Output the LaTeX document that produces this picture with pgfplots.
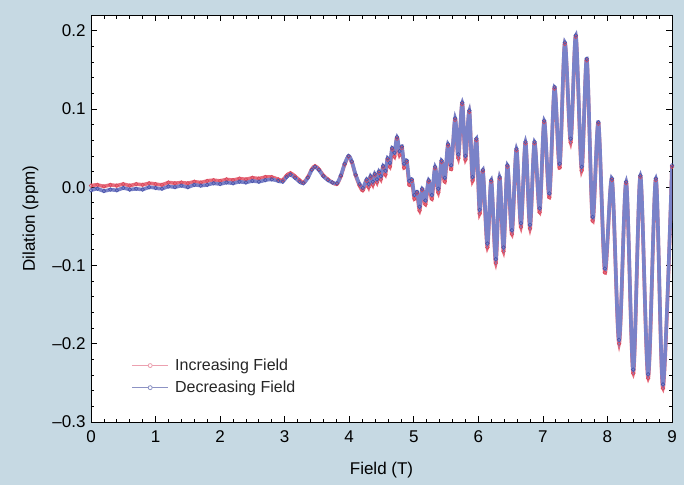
\documentclass[border=0pt]{standalone}
\usepackage{fontspec}
\setmainfont{Liberation Sans}
\usepackage{pgfplots}
\usepackage{pgfplotstable}
\pgfplotsset{compat=1.18}

\definecolor{bgblue}{RGB}{198,217,227}
\definecolor{incline}{RGB}{232,108,124}
\definecolor{incmark}{RGB}{215,70,90}
\definecolor{decline}{RGB}{122,130,200}
\definecolor{decmark}{RGB}{72,82,168}
\definecolor{legred}{RGB}{236,160,175}
\definecolor{legblue}{RGB}{140,146,196}

% increasing field (red)
\pgfplotstableread{
f v
0.0 0.002
0.1 0.003
0.2 0.001
0.3 0.003
0.4 0.002
0.5 0.004
0.6 0.002
0.7 0.004
0.8 0.003
0.9 0.005
1.0 0.004
1.1 0.003
1.2 0.006
1.3 0.005
1.4 0.006
1.5 0.005
1.6 0.007
1.7 0.006
1.8 0.008
1.9 0.009
2.0 0.008
2.1 0.010
2.2 0.009
2.3 0.011
2.4 0.010
2.5 0.012
2.6 0.011
2.7 0.013
2.8 0.013
2.90 0.010
2.97 0.009
3.03 0.015
3.09 0.018
3.16 0.014
3.23 0.009
3.29 0.006
3.36 0.013
3.42 0.023
3.47 0.027
3.53 0.023
3.60 0.015
3.67 0.010
3.74 0.006
3.81 0.004
3.87 0.014
3.93 0.029
3.99 0.039
4.04 0.032
4.10 0.015
4.16 0.002
4.21 -0.004
4.27 0.008
4.30 0.000
4.33 0.012
4.365 0.003
4.395 0.015
4.43 0.006
4.46 0.018
4.49 0.010
4.525 0.025
4.56 0.016
4.595 0.035
4.63 0.026
4.665 0.048
4.70 0.039
4.74 0.062
4.78 0.041
4.815 0.050
4.85 0.025
4.89 0.032
4.93 0.003
4.97 0.008
5.01 -0.015
5.05 -0.008
5.09 -0.030
5.13 -0.004
5.18 -0.022
5.23 0.007
5.28 -0.015
5.33 0.024
5.38 -0.007
5.43 0.032
5.48 0.007
5.53 0.053
5.58 0.023
5.64 0.086
5.69 0.037
5.75 0.106
5.80 0.035
5.86 0.096
5.91 0.008
5.97 0.060
6.02 -0.034
6.07 0.020
6.14 -0.077
6.20 0.007
6.27 -0.097
6.33 0.011
6.39 -0.082
6.45 0.026
6.52 -0.060
6.59 0.047
6.66 -0.051
6.73 0.056
6.80 -0.053
6.87 0.056
6.95 -0.032
7.02 0.083
7.10 -0.013
7.18 0.126
7.26 0.025
7.34 0.183
7.43 0.057
7.51 0.192
7.60 0.021
7.68 0.162
7.77 -0.043
7.86 0.081
7.96 -0.109
8.07 0.009
8.18 -0.200
8.29 0.005
8.40 -0.238
8.51 0.013
8.63 -0.244
8.75 0.009
8.86 -0.257
9.00 0.026
}\incfield

% decreasing field (blue)
\pgfplotstableread{
f v
0.0 -0.004
0.1 -0.002
0.2 -0.005
0.3 -0.003
0.4 -0.004
0.5 -0.001
0.6 -0.003
0.7 -0.002
0.8 -0.003
0.9 0.000
1.0 -0.001
1.1 -0.002
1.2 0.001
1.3 0.000
1.4 0.002
1.5 0.000
1.6 0.003
1.7 0.002
1.8 0.003
1.9 0.005
2.0 0.004
2.1 0.006
2.2 0.005
2.3 0.007
2.4 0.006
2.5 0.008
2.6 0.007
2.7 0.009
2.8 0.010
2.90 0.008
2.97 0.007
3.03 0.013
3.09 0.016
3.16 0.012
3.23 0.007
3.29 0.005
3.36 0.012
3.42 0.022
3.47 0.026
3.53 0.022
3.60 0.014
3.67 0.009
3.74 0.006
3.81 0.005
3.87 0.015
3.93 0.030
3.99 0.040
4.04 0.033
4.10 0.016
4.16 0.004
4.21 -0.001
4.27 0.010
4.30 0.004
4.33 0.014
4.365 0.007
4.395 0.017
4.43 0.010
4.46 0.020
4.49 0.014
4.525 0.027
4.56 0.021
4.595 0.037
4.63 0.031
4.665 0.050
4.70 0.044
4.74 0.064
4.78 0.046
4.815 0.052
4.85 0.030
4.89 0.034
4.93 0.008
4.97 0.010
5.01 -0.010
5.05 -0.006
5.09 -0.025
5.13 -0.002
5.18 -0.017
5.23 0.009
5.28 -0.010
5.33 0.026
5.38 -0.002
5.43 0.034
5.48 0.012
5.53 0.055
5.58 0.028
5.64 0.088
5.69 0.042
5.75 0.108
5.80 0.040
5.86 0.098
5.91 0.013
5.97 0.062
6.02 -0.029
6.07 0.022
6.14 -0.072
6.20 0.009
6.27 -0.092
6.33 0.013
6.39 -0.077
6.45 0.028
6.52 -0.055
6.59 0.049
6.66 -0.046
6.73 0.058
6.80 -0.048
6.87 0.058
6.95 -0.027
7.02 0.085
7.10 -0.008
7.18 0.128
7.26 0.030
7.34 0.185
7.43 0.062
7.51 0.194
7.60 0.026
7.68 0.164
7.77 -0.038
7.86 0.083
7.96 -0.104
8.07 0.011
8.18 -0.195
8.29 0.007
8.40 -0.233
8.51 0.015
8.63 -0.239
8.75 0.011
8.86 -0.252
9.00 0.028
}\decfield

\begin{document}
\begin{tikzpicture}
\fill[bgblue] (-91pt,-63pt) rectangle (593pt,422pt);
\begin{axis}[
    at={(0pt,0pt)}, anchor=south west,
    scale only axis,
    width=581pt, height=407pt,
    xmin=0, xmax=9,
    ymin=-0.3, ymax=0.22,
    axis background/.style={fill=white},
    axis line style={line width=0.8pt},
    xtick={0,1,2,3,4,5,6,7,8,9},
    xticklabels={0,1,2,3,4,5,6,7,8,9},
    minor x tick num=4,
    ytick={-0.3,-0.2,-0.1,0,0.1,0.2},
    yticklabels={–0.3,–0.2,–0.1,0.0,0.1,0.2},
    minor y tick num=4,
    tick pos=both,
    tick align=inside,
    major tick length=6pt,
    minor tick length=3.5pt,
    every tick/.style={black, line width=0.7pt},
    ticklabel style={font=\fontsize{17}{20}\selectfont},
    xticklabel style={yshift=-5pt},
    yticklabel style={xshift=-2pt},
    xlabel={Field (T)},
    ylabel={Dilation (ppm)},
    every axis x label/.style={at={(axis description cs:0.5,-0.118)}, anchor=center,
        font=\fontsize{17}{20}\selectfont},
    every axis y label/.style={at={(axis description cs:-0.104,0.5)}, rotate=90, anchor=center,
        font=\fontsize{17}{20}\selectfont},
    legend style={at={(0.066,0.058)}, anchor=south west, draw=none, fill=white,
        font=\fontsize{16}{19}\selectfont, row sep=5pt, inner sep=2pt,
        text=black!85},
    legend cell align=left,
]
\addplot[forget plot, smooth, tension=0.5, color=incline, line width=3.6pt,
    mark=o, mark size=1.8pt, mark options={line width=0.6pt, draw=incmark}]
    table[x=f, y=v] {\incfield};
\addplot[forget plot, smooth, tension=0.5, color=decline, line width=3.6pt,
    mark=o, mark size=1.8pt, mark options={line width=0.6pt, draw=decmark}]
    table[x=f, y=v] {\decfield};

\addlegendimage{legend image code/.code={
    \path[draw=none, fill=none] (0pt,0pt) -- (41pt,0pt);
    \draw[draw=legred, line width=1.3pt] (0pt,0pt) -- (36pt,0pt);
    \draw[draw=legred, fill=white, line width=0.8pt] (18pt,0pt) circle (2pt);}}
\addlegendentry{Increasing Field}
\addlegendimage{legend image code/.code={
    \path[draw=none, fill=none] (0pt,0pt) -- (41pt,0pt);
    \draw[draw=legblue, line width=1.3pt] (0pt,0pt) -- (36pt,0pt);
    \draw[draw=legblue, fill=white, line width=0.8pt] (18pt,0pt) circle (2pt);}}
\addlegendentry{Decreasing Field}
\end{axis}
\end{tikzpicture}
\end{document}
